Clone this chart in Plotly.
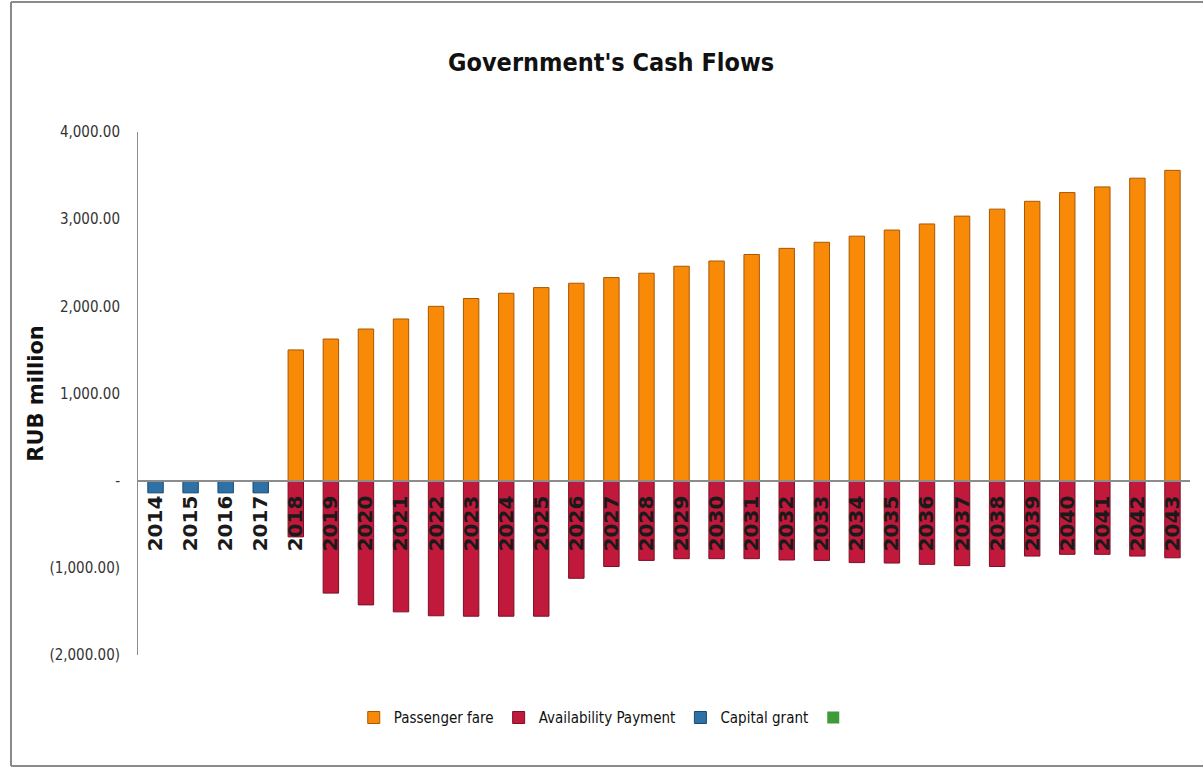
import plotly.graph_objects as go

years = [str(y) for y in range(2014, 2044)]

passenger_fare = [None, None, None, None,
                  1500, 1625, 1740, 1855, 2000, 2090, 2150, 2215, 2265, 2330,
                  2380, 2460, 2520, 2595, 2665, 2735, 2805, 2875, 2945, 3035,
                  3115, 3205, 3305, 3370, 3470, 3560]

availability_payment = [None, None, None, None,
                        -645, -1290, -1425, -1505, -1550, -1555, -1555, -1555,
                        -1120, -985, -915, -895, -895, -895, -910, -915,
                        -940, -945, -960, -975, -985, -865, -845, -845, -865, -885]

capital_grant = [-140, -140, -140, -140] + [None] * 26

other_series = [0] * 30

ytick_vals = [-2000, -1000, 0, 1000, 2000, 3000, 4000]
ytick_text = ["(2,000.00)", "(1,000.00)", "-", "1,000.00", "2,000.00", "3,000.00", "4,000.00"]
y_range = [-2000, 4000]

narrow = "DejaVu Sans Condensed, Liberation Sans, sans-serif"

fig = go.Figure()
fig.add_trace(go.Bar(x=years, y=passenger_fare, name="Passenger fare",
                     marker=dict(color="#F88A08", line=dict(color="#A85800", width=1))))
fig.add_trace(go.Bar(x=years, y=availability_payment, name="Availability Payment",
                     marker=dict(color="#C1193B", line=dict(color="#7A0F25", width=1))))
fig.add_trace(go.Bar(x=years, y=capital_grant, name="Capital grant",
                     marker=dict(color="#2F70A5", line=dict(color="#1B4A70", width=1))))
fig.add_trace(go.Bar(x=years, y=other_series, name=" ",
                     marker=dict(color="#3F9A3A", line=dict(color="#3F9A3A", width=0))))

zero_pos = (0 - y_range[0]) / (y_range[1] - y_range[0])

fig.update_layout(
    width=1203, height=771,
    margin=dict(l=138, r=13, t=132, b=116),
    paper_bgcolor="white", plot_bgcolor="white",
    barmode="relative", bargap=0.56,
    title=dict(text="<b>Government's Cash Flows</b>", x=0.508, xref="container",
               xanchor="center", y=1 - 62 / 771, yref="container", yanchor="middle",
               font=dict(family=narrow, size=25, color="#111111")),
    legend=dict(orientation="h", x=0.447, xanchor="center", y=-0.12, yanchor="middle",
                font=dict(family=narrow, size=15, color="#111111"),
                itemwidth=30, traceorder="normal", bgcolor="rgba(0,0,0,0)"),
    xaxis=dict(type="category", anchor="free", position=zero_pos,
               showline=True, linecolor="#8C8C8C", linewidth=2,
               showgrid=False, zeroline=False, ticks="", tickangle=-90,
               ticklabelstandoff=6,
               tickfont=dict(family="DejaVu Sans", size=20, color="#1A1A1A", weight="bold")),
    yaxis=dict(range=y_range, tickvals=ytick_vals, ticktext=ytick_text,
               showline=True, linecolor="#8C8C8C", linewidth=1,
               showgrid=False, zeroline=False, ticks="", ticklabelstandoff=14,
               tickfont=dict(family=narrow, size=15, color="#333333"),
               title=dict(text="<b>RUB million</b>", standoff=0,
                          font=dict(family="DejaVu Sans", size=21, color="#111111"))),
    showlegend=True,
)

# outer frame of the chart (top, left, bottom edges)
W, H = 1203, 771
l, r, t, b = 138, 13, 132, 116
pw, ph = W - l - r, H - t - b
def px(x):
    return (x - l) / pw
def py(y):
    return (H - b - y) / ph
frame = dict(color="#8A8A8A", width=2)
fig.add_shape(type="line", xref="paper", yref="paper", x0=px(11), x1=px(1203), y0=py(2), y1=py(2), line=frame)
fig.add_shape(type="line", xref="paper", yref="paper", x0=px(11), x1=px(11), y0=py(2), y1=py(766), line=frame)
fig.add_shape(type="line", xref="paper", yref="paper", x0=px(11), x1=px(1203), y0=py(766), y1=py(766), line=frame)

fig.write_html("out.html")
